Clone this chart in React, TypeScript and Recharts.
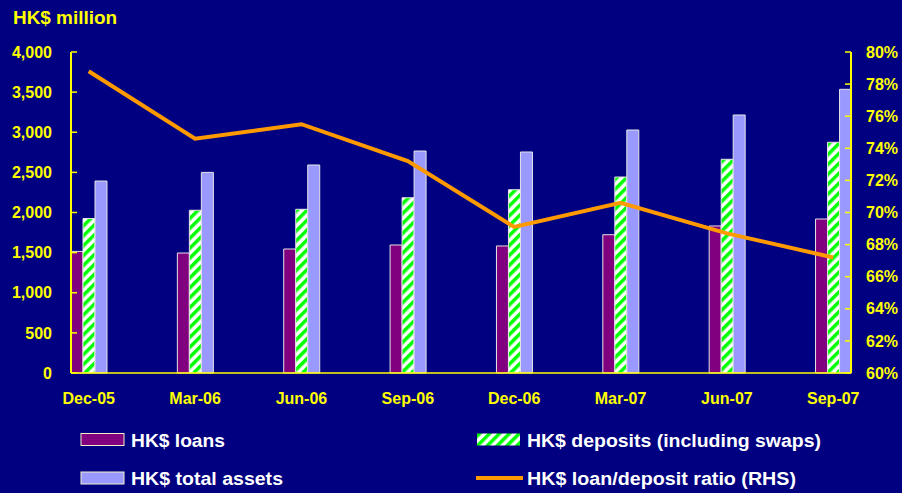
import { ComposedChart, Bar, Line, XAxis, YAxis } from "recharts";

// Quarterly HK$ balance-sheet figures (HK$ million) and loan/deposit ratio (%)
const quarters = ["Dec-05", "Mar-06", "Jun-06", "Sep-06", "Dec-06", "Mar-07", "Jun-07", "Sep-07"];
const loans = [1515, 1495, 1545, 1595, 1583, 1723, 1832, 1919];
const deposits = [1925, 2028, 2040, 2184, 2284, 2442, 2663, 2875];
const totalAssets = [2392, 2500, 2592, 2766, 2754, 3028, 3215, 3535];
const ratio = [78.8, 74.6, 75.5, 73.2, 69.1, 70.6, 68.7, 67.2];

const leftTicks = [0, 500, 1000, 1500, 2000, 2500, 3000, 3500, 4000];
const rightTicks = [60, 62, 64, 66, 68, 70, 72, 74, 76, 78, 80];

const data = quarters.map((q, i) => ({
  quarter: q,
  loans: loans[i],
  deposits: deposits[i],
  assets: totalAssets[i],
  ratio: ratio[i],
}));

const FONT = '"Liberation Sans", Arial, sans-serif';
const YELLOW = "#FFFF00";
const NAVY = "#000080";
const BAR_EDGE = "#E4E4E4";

const tickStyle = { fill: YELLOW, fontSize: 16, fontWeight: 700, fontFamily: FONT };

export default function App() {
  return (
    <div style={{ position: "relative", width: 902, height: 493, background: NAVY }}>
      <style>{`body{margin:0;background:${NAVY};}`}</style>

      {/* pattern, title and legend overlay */}
      <svg
        width={902}
        height={493}
        style={{ position: "absolute", left: 0, top: 0, pointerEvents: "none", zIndex: 1 }}
      >
        <defs>
          <pattern
            id="depositStripes"
            patternUnits="userSpaceOnUse"
            width={7}
            height={7}
            patternTransform="rotate(45)"
          >
            <rect width={7} height={7} fill="#FFFFFF" />
            <rect width={3.5} height={7} fill="#00FF00" />
          </pattern>
        </defs>

        <text x={13} y={24} fill={YELLOW} fontSize={18} fontWeight={700} fontFamily={FONT} textLength={104} lengthAdjust="spacingAndGlyphs">
          HK$ million
        </text>

        <g fontFamily={FONT} fontWeight={700} fontSize={18} fill="#FFFFFF">
          <rect x={81} y={433.5} width={43} height={12} fill="#800080" stroke="#F0F0C8" />
          <text x={131} y={447} textLength={94} lengthAdjust="spacingAndGlyphs">HK$ loans</text>

          <rect x={477} y={433.5} width={43} height={12} fill="url(#depositStripes)" />
          <text x={527} y={447} textLength={294} lengthAdjust="spacingAndGlyphs">
            HK$ deposits (including swaps)
          </text>

          <rect x={81} y={472} width={43} height={12} fill="#9999FF" stroke="#F0F0C8" />
          <text x={131} y={484.5} textLength={152} lengthAdjust="spacingAndGlyphs">HK$ total assets</text>

          <line x1={476} x2={523} y1={478} y2={478} stroke="#FF9900" strokeWidth={4} />
          <text x={527} y={484.5} textLength={269} lengthAdjust="spacingAndGlyphs">
            HK$ loan/deposit ratio (RHS)
          </text>
        </g>
      </svg>

      <ComposedChart
        width={902}
        height={493}
        data={data}
        margin={{ top: 52, right: 0, bottom: 80, left: 11 }}
        barCategoryGap="33.333%"
        barGap={0}
        style={{ position: "absolute", left: 0, top: 0, zIndex: 2 }}
      >
        <XAxis
          dataKey="quarter"
          height={40}
          interval={0}
          padding={{ left: -35.45, right: -35.45 }}
          tickLine={false}
          tickSize={0}
          tickMargin={20}
          axisLine={{ stroke: YELLOW, strokeWidth: 1.5 }}
          tick={tickStyle}
        />
        <YAxis
          yAxisId="left"
          orientation="left"
          width={60}
          domain={[0, 4000]}
          ticks={leftTicks}
          interval={0}
          tickSize={-6}
          tickMargin={25}
          tickLine={{ stroke: YELLOW, strokeWidth: 1.5 }}
          axisLine={{ stroke: YELLOW, strokeWidth: 2 }}
          tick={tickStyle}
          tickFormatter={(v: number) => v.toLocaleString("en-US")}
        />
        <YAxis
          yAxisId="right"
          orientation="right"
          width={51}
          domain={[60, 80]}
          ticks={rightTicks}
          interval={0}
          tickSize={-6}
          tickMargin={21}
          tickLine={{ stroke: YELLOW, strokeWidth: 1.5 }}
          axisLine={{ stroke: YELLOW, strokeWidth: 2 }}
          tick={tickStyle}
          tickFormatter={(v: number) => `${v}%`}
        />
        <Bar yAxisId="left" dataKey="loans" name="HK$ loans" fill="#800080" stroke={BAR_EDGE} strokeWidth={1} isAnimationActive={false} />
        <Bar yAxisId="left" dataKey="deposits" name="HK$ deposits (including swaps)" fill="url(#depositStripes)" stroke={BAR_EDGE} strokeWidth={1} isAnimationActive={false} />
        <Bar yAxisId="left" dataKey="assets" name="HK$ total assets" fill="#9999FF" stroke={BAR_EDGE} strokeWidth={1} isAnimationActive={false} />
        <Line
          yAxisId="right"
          type="linear"
          dataKey="ratio"
          name="HK$ loan/deposit ratio (RHS)"
          stroke="#FF9900"
          strokeWidth={4}
          dot={false}
          isAnimationActive={false}
        />
      </ComposedChart>
    </div>
  );
}
